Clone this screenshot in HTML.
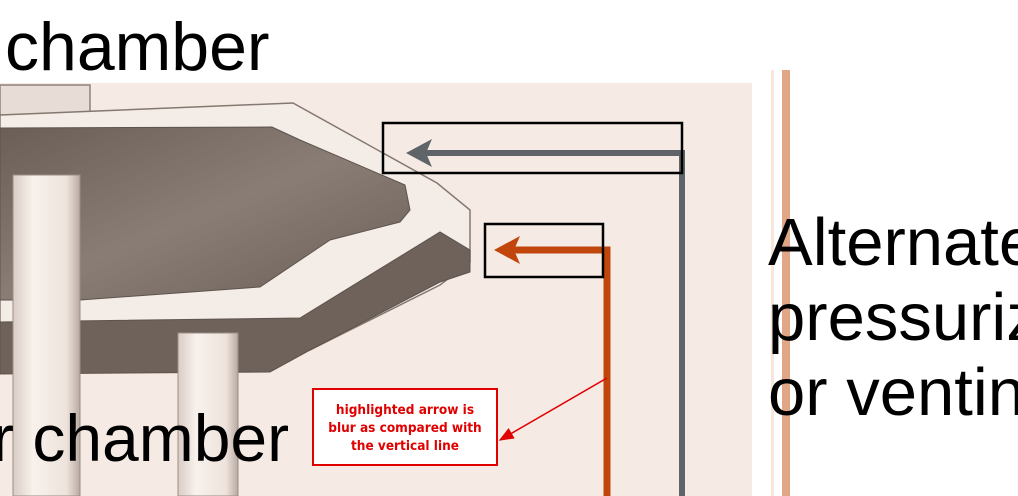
<!DOCTYPE html>
<html><head><meta charset="utf-8"><style>
html,body{margin:0;padding:0;background:#fff;width:1018px;height:496px;overflow:hidden}
svg{display:block}
text{font-family:"Liberation Sans",sans-serif}
</style></head><body>
<svg width="1018" height="496" viewBox="0 0 1018 496">
<defs>
<linearGradient id="dk" x1="0" y1="0" x2="1" y2="1"><stop offset="0" stop-color="#6a5e57"/><stop offset="0.5" stop-color="#8a7d75"/><stop offset="1" stop-color="#6a5e57"/></linearGradient>
<linearGradient id="post" x1="0" x2="1"><stop offset="0" stop-color="#d9cdc5"/><stop offset="0.3" stop-color="#f8f1ec"/><stop offset="0.8" stop-color="#eee3dc"/><stop offset="1" stop-color="#b8aaa2"/></linearGradient>
<marker id="ra" markerWidth="10" markerHeight="8" refX="9" refY="4" orient="auto"><path d="M0,0 L10,4 L0,8 z" fill="#e00000"/></marker>
</defs>
<rect x="0" y="83" width="752" height="413" fill="#f6ebe4"/>
<g>
<rect x="0" y="85" width="90" height="30" fill="#e8ddd6" stroke="#8d817a" stroke-width="1.5"/>
<polygon points="0,115 293,103 437,183 470,210 470,262 440,285 310,350 0,352" fill="#f4ece6" stroke="#857871" stroke-width="1.5"/>
<polygon points="0,128 272,127 300,140 405,185 410,210 400,222 330,240 260,287 80,300 0,300" fill="url(#dk)" stroke="#5e534d" stroke-width="1"/>
<polygon points="0,322 300,318 440,232 470,250 470,272 440,282 310,350 270,372 0,374" fill="#6e625b" stroke="#5e534d" stroke-width="1"/>
<rect x="13" y="175" width="67" height="321" fill="url(#post)" stroke="#9a8d86" stroke-width="1"/>
<rect x="178" y="333" width="60" height="163" fill="url(#post)" stroke="#9a8d86" stroke-width="1"/>
</g>
<text x="5" y="70" font-size="68" fill="#000">chamber</text>
<text x="-8" y="461" font-size="66" fill="#000">r chamber</text>
<rect x="771" y="70" width="3" height="426" fill="#f8e6dc"/>
<rect x="782" y="70" width="8" height="426" fill="#e0a686"/>
<g font-size="67" fill="#000">
<text x="768" y="265">Alternate</text>
<text x="768" y="340">pressurizing</text>
<text x="768" y="415">or venting</text>
</g>
<g>
<polyline points="420,153 682,153 682,496" fill="none" stroke="#5f6468" stroke-width="6"/>
<path d="M406,153 L432,139 L426,153 L432,167 z" fill="#5f6468"/>
</g>
<g>
<polyline points="508,250 607,250 607,496" fill="none" stroke="#c0460c" stroke-width="7"/>
<path d="M494,250 L520,236 L514,250 L520,264 z" fill="#c0460c"/>
</g>
<rect x="383" y="123" width="299" height="50" fill="none" stroke="#000" stroke-width="2.5"/>
<rect x="485" y="224" width="118" height="53" fill="none" stroke="#000" stroke-width="2.5"/>
<line x1="607" y1="378" x2="500" y2="440" stroke="#e00000" stroke-width="1.5" marker-end="url(#ra)"/>
<rect x="313" y="389" width="184" height="76" fill="#fff" stroke="#e00000" stroke-width="2"/>
<g font-weight="bold" font-size="13.5" fill="#e00000" text-anchor="middle">
<text x="405" y="414" style="font-family:'DejaVu Sans Condensed','DejaVu Sans',sans-serif">highlighted arrow is</text>
<text x="405" y="432" style="font-family:'DejaVu Sans Condensed','DejaVu Sans',sans-serif">blur as compared with</text>
<text x="405" y="450" style="font-family:'DejaVu Sans Condensed','DejaVu Sans',sans-serif">the vertical line</text>
</g>
</svg>
</body></html>
